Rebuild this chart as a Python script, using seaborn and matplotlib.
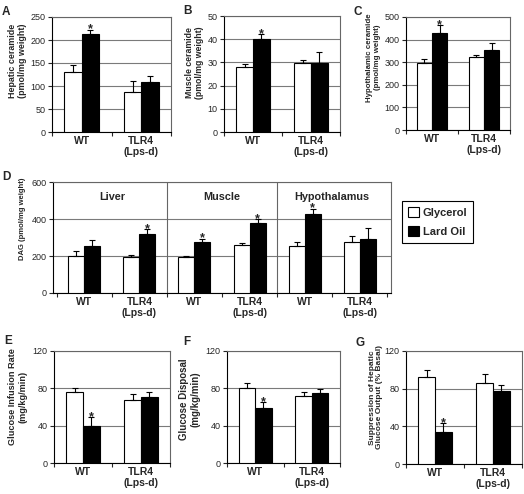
import numpy as np
import pandas as pd
import matplotlib
matplotlib.use("Agg")
import matplotlib.pyplot as plt
import seaborn as sns
from matplotlib.patches import Patch

sns.set_style("ticks")
plt.rcParams["font.family"] = ["Liberation Sans", "DejaVu Sans"]

genotypes = ["WT", "TLR4\n(Lps-d)"]
treatments = ["Glycerol", "Lard Oil"]
bar_colors = ["white", "black"]
tissues = ["Liver", "Muscle", "Hypothalamus"]

# A - hepatic ceramide (pmol/mg)
hep_gly = [130, 88]
hep_gly_err = [16, 23]
hep_lard = [212, 109]
hep_lard_err = [10, 12]
hep_star = [1, 0]

# B - muscle ceramide
mus_gly = [27.9, 29.7]
mus_gly_err = [1.4, 1.3]
mus_lard = [40, 29.7]
mus_lard_err = [2.1, 4.9]
mus_star = [1, 0]

# C - hypothalamic ceramide
hyp_gly = [298, 321]
hyp_gly_err = [18, 10]
hyp_lard = [429, 353]
hyp_lard_err = [34, 34]
hyp_star = [1, 0]

# D - DAG, tissue by genotype
dag_gly = [200, 197, 192, 260, 255, 276]
dag_gly_err = [27, 11, 10, 11, 20, 31]
dag_lard = [253, 320, 276, 378, 426, 293]
dag_lard_err = [34, 25, 17, 20, 29, 59]
dag_star = [0, 1, 1, 1, 1, 0]

# E - glucose infusion rate
gir_gly = [76, 68]
gir_gly_err = [4.6, 6.4]
gir_lard = [40, 71]
gir_lard_err = [9.2, 4.6]
gir_star = [1, 0]

# F - glucose disposal
gd_gly = [80.6, 71.7]
gd_gly_err = [5, 3.9]
gd_lard = [58.6, 74.5]
gd_lard_err = [6.4, 4.7]
gd_star = [1, 0]

# G - suppression of hepatic glucose output
hgo_gly = [92, 86]
hgo_gly_err = [7.4, 9.5]
hgo_lard = [34, 77]
hgo_lard_err = [9.5, 6.4]
hgo_star = [1, 0]

W, H = 524, 494
fig = plt.figure(figsize=(W / 100, H / 100), dpi=100)


def add_ax(x0, y0, x1, y1):
    return fig.add_axes([x0 / W, 1 - y1 / H, (x1 - x0) / W, (y1 - y0) / H])


def bar_panel(ax, cats, gly, gly_err, lard, lard_err, star, labels, yticks, ylabel,
              label_size=6.3, pad=3, label_y=0.6):
    df = pd.DataFrame({
        "cat": cats * 2,
        "treatment": np.repeat(treatments, len(cats)),
        "value": gly + lard,
    })
    sns.barplot(data=df, x="cat", y="value", hue="treatment", order=cats,
                hue_order=treatments, palette=bar_colors, width=0.58,
                edgecolor="black", linewidth=0.8, saturation=1, legend=False,
                ax=ax, zorder=3)
    bars = list(ax.containers[:2])
    for cont, err in zip(bars, [gly_err, lard_err]):
        xs = [p.get_x() + p.get_width() / 2 for p in cont]
        hs = [p.get_height() for p in cont]
        ax.errorbar(xs, hs, yerr=[np.zeros(len(err)), err], fmt="none",
                    ecolor="black", elinewidth=0.8, capsize=2, capthick=0.8, zorder=4)
    for p, e, s in zip(bars[1], lard_err, star):
        if s:
            ax.annotate("*", (p.get_x() + p.get_width() / 2, p.get_height() + e),
                        xytext=(0, -2), textcoords="offset points", ha="center",
                        va="baseline", fontsize=9, fontweight="bold")
    ax.set_ylim(yticks[0], yticks[-1])
    ax.set_yticks(yticks)
    ax.yaxis.grid(True, color="#7a7a7a", linewidth=0.8)
    ax.set_axisbelow(True)
    ax.set_xticks(range(len(cats)))
    ax.set_xticklabels(labels, fontsize=7.5, fontweight="bold", linespacing=1.1)
    ax.set_xticks(np.arange(-0.5, len(cats)), minor=True)
    ax.tick_params(axis="x", which="major", length=0, pad=3)
    ax.tick_params(axis="x", which="minor", length=3, width=0.8, direction="out")
    ax.tick_params(axis="y", length=3, width=0.8, direction="out", labelsize=6.5, pad=1.5)
    ax.set_xlabel("")
    ax.set_ylabel(ylabel, fontsize=label_size, fontweight="bold", labelpad=pad, linespacing=1.15)
    # the original labels sit above the middle of the plot area
    ax.yaxis.label.set_y(label_y)
    for side in ["left", "bottom"]:
        ax.spines[side].set_color("black")
        ax.spines[side].set_linewidth(0.8)
    for side in ["top", "right"]:
        ax.spines[side].set_color("#666666")
        ax.spines[side].set_linewidth(0.8)


axA = add_ax(52, 17, 171, 132)
bar_panel(axA, genotypes, hep_gly, hep_gly_err, hep_lard, hep_lard_err, hep_star,
          genotypes, [0, 50, 100, 150, 200, 250], "Hepatic ceramide\n(pmol/mg weight)",
          label_size=6.4, label_y=0.62)

axB = add_ax(224, 16, 340, 132)
bar_panel(axB, genotypes, mus_gly, mus_gly_err, mus_lard, mus_lard_err, mus_star,
          genotypes, [0, 10, 20, 30, 40, 50], "Muscle ceramide\n(pmol/mg weight)",
          label_size=6.3, label_y=0.60)

axC = add_ax(406, 17, 510, 130)
bar_panel(axC, genotypes, hyp_gly, hyp_gly_err, hyp_lard, hyp_lard_err, hyp_star,
          genotypes, [0, 100, 200, 300, 400, 500], "Hypothalamic ceramide\n(pmol/mg weight)",
          label_size=5.7, label_y=0.64)

dag_cats = [t + " " + g for t in tissues for g in genotypes]
axD = add_ax(53, 182, 391, 293)
bar_panel(axD, dag_cats, dag_gly, dag_gly_err, dag_lard, dag_lard_err, dag_star,
          genotypes * len(tissues), [0, 200, 400, 600], "DAG (pmol/mg weight)",
          label_size=5.5, pad=4, label_y=0.67)
for k in range(1, len(tissues)):
    axD.axvline(k * len(genotypes) - 0.5, color="#666666", linewidth=0.8, zorder=2)
for k, t in enumerate(tissues):
    axD.text(k * len(genotypes) + 0.5, 0.865, t, transform=axD.get_xaxis_transform(),
             ha="center", va="center", fontsize=7.8, fontweight="bold")

axE = add_ax(54, 351, 170, 463)
bar_panel(axE, genotypes, gir_gly, gir_gly_err, gir_lard, gir_lard_err, gir_star,
          genotypes, [0, 40, 80, 120], "Glucose Infusion Rate\n(mg/kg/min)",
          label_size=6.6, pad=4, label_y=0.59)

axF = add_ax(227, 351, 340, 463)
bar_panel(axF, genotypes, gd_gly, gd_gly_err, gd_lard, gd_lard_err, gd_star,
          genotypes, [0, 40, 80, 120], "Glucose Disposal\n(mg/kg/min)",
          label_size=7.0, pad=4, label_y=0.57)

axG = add_ax(406, 351, 522, 464)
bar_panel(axG, genotypes, hgo_gly, hgo_gly_err, hgo_lard, hgo_lard_err, hgo_star,
          genotypes, [0, 40, 80, 120], "Suppression of Hepatic\nGlucose Output (% Basal)",
          label_size=6.0, pad=1, label_y=0.59)

handles = [Patch(facecolor=c, edgecolor="black", linewidth=0.8, label=t)
           for c, t in zip(bar_colors, treatments)]
leg = fig.legend(handles=handles, loc="upper left", bbox_to_anchor=(402 / W, 1 - 201 / H),
                 frameon=True, fancybox=False, edgecolor="black", framealpha=1,
                 prop={"size": 8, "weight": "bold"}, handlelength=1.0, handleheight=1.0,
                 handletextpad=0.3, labelspacing=0.75, borderpad=0.55, borderaxespad=0)
leg.get_frame().set_linewidth(0.8)

for letter, x, y in [("A", 2, 15), ("B", 183, 14), ("C", 353, 15), ("D", 2, 180),
                     ("E", 4, 344), ("F", 183, 345), ("G", 355, 346)]:
    fig.text(x / W, 1 - y / H, letter, ha="left", va="baseline", fontsize=8.5, fontweight="bold")

fig.savefig("out.png", dpi=100)
